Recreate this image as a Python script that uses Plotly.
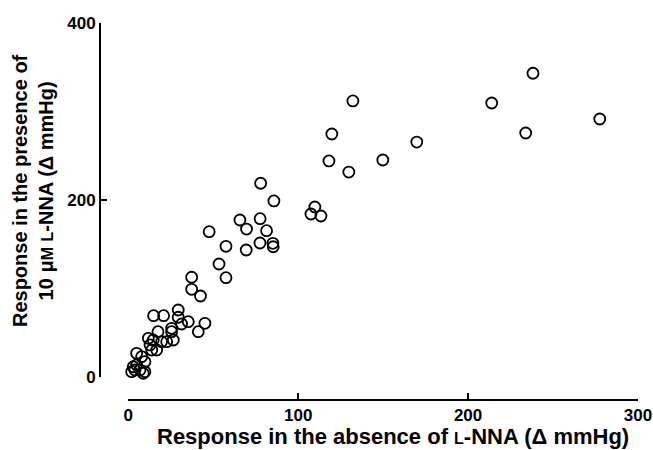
import plotly.graph_objects as go

# Response in the absence of L-NNA (Δ mmHg)
absence = [
    238.2, 132.2, 213.9, 277.5, 119.8, 233.9, 169.8, 149.8, 118.1, 129.8,
    109.8, 107.5, 113.4,
    77.9, 85.7, 65.7, 77.6, 69.6, 81.4, 47.6, 57.5, 69.4, 77.5, 85.1, 85.3,
    53.4, 37.3, 57.5, 37.3,
    42.5, 14.9, 20.8, 29.4, 29.4, 31.4, 35.3, 45.1, 41.2, 17.5, 25.5, 25.5,
    11.8, 14.7, 19.6, 22.6, 26.5, 13.8, 16.7, 12.8, 4.9, 7.9, 9.8, 2.9, 3.9,
    6.9, 8.8, 2.0, 4.9, 9.8,
]
# Response in the presence of 10 μM L-NNA (Δ mmHg)
presence = [
    343.2, 311.9, 309.6, 291.5, 274.6, 275.7, 265.5, 245.2, 244.1, 231.6,
    192.1, 184.2, 181.9,
    218.9, 198.9, 177.4, 178.9, 167.2, 165.3, 164.2, 147.7, 143.5, 151.4, 151.1, 147.2,
    127.7, 112.7, 112.2, 99.1,
    91.5, 69.3, 69.3, 75.7, 67.5, 59.9, 62.5, 60.7, 51.2, 51.2, 55.0, 51.2,
    43.7, 41.8, 39.9, 39.9, 41.8, 30.5, 30.5, 36.2, 26.8, 23.0, 17.3, 11.6, 7.9,
    7.9, 4.2, 6.0, 13.6, 6.0,
]
x_ticks = [0, 100, 200, 300]
y_ticks = [0, 200, 400]

FONT = "Liberation Sans, Arial, Helvetica, sans-serif"
small = '<span style="font-size:16px">{}</span>'

W, H = 653, 450
L, T = 100, 23
R = W - 638.3
B = H - 400
pw, ph = W - L - R, H - T - B

fig = go.Figure(go.Scatter(
    x=absence, y=presence, mode="markers",
    marker=dict(symbol="circle-open", size=11, color="black", line=dict(width=1.8)),
    cliponaxis=False, showlegend=False, hoverinfo="skip",
))

axis_common = dict(
    showline=True, linecolor="black", linewidth=1.8,
    ticks="inside", ticklen=6, tickwidth=1.6, tickcolor="black",
    showgrid=False, zeroline=False, automargin=False,
    tickfont=dict(family=FONT, size=17, color="black", weight="bold"),
)

fig.update_layout(
    width=W, height=H, autosize=False,
    margin=dict(l=L, r=R, t=T, b=B, pad=0, autoexpand=False),
    paper_bgcolor="white", plot_bgcolor="white",
    xaxis=dict(range=[0, 300], tickvals=x_ticks, domain=[28.3 / pw, 1],
               anchor="free", position=0, **axis_common),
    yaxis=dict(range=[0, 400], tickvals=y_ticks, domain=[23 / ph, 1],
               anchor="free", position=0, **axis_common),
    font=dict(family=FONT, color="black"),
)

def px_x(page_x):
    return (page_x - L) / pw

def px_y(page_y):
    return ((T + ph) - page_y) / ph

fig.add_annotation(
    text="Response in the absence of " + small.format("L") + "-NNA (Δ mmHg)",
    xref="paper", yref="paper", x=px_x(393), y=px_y(436),
    xanchor="center", yanchor="middle", showarrow=False,
    font=dict(family=FONT, size=22, color="black", weight="bold"),
)
fig.add_annotation(
    text="Response in the presence of<br>10 μ" + small.format("M") + " " + small.format("L") + "-NNA (Δ mmHg)",
    xref="paper", yref="paper", x=px_x(33), y=px_y(191),
    xanchor="center", yanchor="middle", showarrow=False, textangle=-90,
    font=dict(family=FONT, size=20, color="black", weight="bold"),
)

fig.write_html(
    "out.html",
    config={"displayModeBar": False},
    post_script="document.body.style.margin='0';document.body.style.overflow='hidden';",
)
